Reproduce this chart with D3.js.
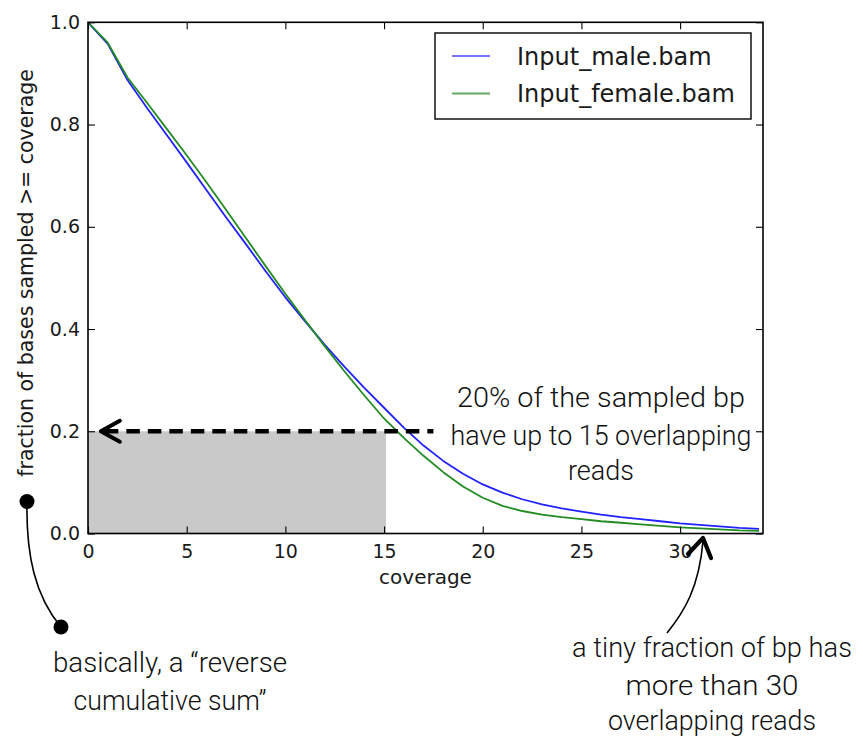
<!DOCTYPE html>
<html>
<head>
<meta charset="utf-8">
<script src="https://cdn.jsdelivr.net/npm/d3@7/dist/d3.min.js"></script>
<style>
  html, body { margin: 0; padding: 0; background: #fff; }
  svg { display: block; }
</style>
</head>
<body>
<svg id="chart" width="863" height="737"></svg>
<script>
// ---------------- data ----------------
const coverage = [0,1,2,3,4,5,6,7,8,9,10,11,12,13,14,15,16,17,18,19,20,21,22,23,24,25,26,27,28,29,30,31,32,33,34];
const maleFraction = [1.000,0.958,0.887,0.832,0.779,0.726,0.672,0.618,0.566,0.513,0.462,0.415,0.369,0.326,0.285,0.246,0.207,0.172,0.142,0.117,0.096,0.080,0.067,0.057,0.049,0.043,0.037,0.032,0.028,0.024,0.020,0.017,0.014,0.011,0.009];
const femaleFraction = [1.000,0.960,0.892,0.842,0.791,0.740,0.687,0.633,0.578,0.523,0.469,0.417,0.366,0.317,0.270,0.225,0.187,0.152,0.120,0.092,0.070,0.054,0.044,0.037,0.032,0.028,0.024,0.021,0.018,0.015,0.012,0.010,0.008,0.006,0.005];
const seriesNames = ["Input_male.bam", "Input_female.bam"];
const xTicks = [0,5,10,15,20,25,30];
const yTicks = [0.0,0.2,0.4,0.6,0.8,1.0];
const xLabel = "coverage";
const yLabel = "fraction of bases sampled >= coverage";
const shaded = [{x0: 0, x1: 15.1, y0: 0, y1: 0.2}];
const arrowLevel = [{xFrom: 17.5, xTo: 0.6, y: 0.2}];
const noteTop = ["20% of the sampled bp", "have up to 15 overlapping", "reads"];
const noteLeft = ["basically, a \u201creverse", "cumulative sum\u201d"];
const noteRight = ["a tiny fraction of bp has", "more than 30", "overlapping reads"];

// ---------------- layout ----------------
const svg = d3.select("#chart");
const L = 88, R = 763, T = 22.3, B = 533.5;
const x = d3.scaleLinear().domain([0, 34.2]).range([L, R]);
const y = d3.scaleLinear().domain([0, 1]).range([B, T]);
const tickFont = "'DejaVu Sans', sans-serif";
const handFont = "Roboto, 'Open Sans', sans-serif";

svg.append("rect").attr("width", 863).attr("height", 737).attr("fill", "#fff");

// shaded region
svg.selectAll("rect.shade").data(shaded).enter().append("rect")
  .attr("class", "shade")
  .attr("x", d => x(d.x0)).attr("y", d => y(d.y1))
  .attr("width", d => x(d.x1) - x(d.x0)).attr("height", d => y(d.y0) - y(d.y1))
  .attr("fill", "#c9c9c9");

// lines
const series = [
  {name: seriesNames[0], values: maleFraction, color: "#2222ff", legendColor: "#7474ff"},
  {name: seriesNames[1], values: femaleFraction, color: "#228b22", legendColor: "#62a862"}
];
const line = d3.line().x((d, i) => x(coverage[i])).y(d => y(d));
const clip = svg.append("clipPath").attr("id", "clip").append("rect")
  .attr("x", L).attr("y", T - 2).attr("width", R - L).attr("height", B - T + 2);
series.forEach(s => {
  svg.append("path").datum(s.values)
    .attr("d", line).attr("fill", "none")
    .attr("stroke", s.color).attr("stroke-width", 1.8)
    .attr("stroke-linejoin", "round")
    .attr("clip-path", "url(#clip)");
});

// axes (matplotlib classic: ticks inside on all four sides)
const tickLen = 7;
const axB = svg.append("g").attr("transform", `translate(0,${B})`)
  .call(d3.axisBottom(x).tickValues(xTicks).tickSizeInner(-tickLen).tickSizeOuter(0).tickPadding(11).tickFormat(d3.format("d")));
const axT = svg.append("g").attr("transform", `translate(0,${T})`)
  .call(d3.axisTop(x).tickValues(xTicks).tickSizeInner(-tickLen).tickSizeOuter(0).tickFormat(""));
const axL = svg.append("g").attr("transform", `translate(${L},0)`)
  .call(d3.axisLeft(y).tickValues(yTicks).tickSizeInner(-tickLen).tickSizeOuter(0).tickPadding(16).tickFormat(d3.format(".1f")));
const axR = svg.append("g").attr("transform", `translate(${R},0)`)
  .call(d3.axisRight(y).tickValues(yTicks).tickSizeInner(-tickLen).tickSizeOuter(0).tickFormat(""));
[axB, axT, axL, axR].forEach(g => {
  g.select(".domain").remove();
  g.selectAll(".tick line").attr("stroke", "#000").attr("stroke-width", 1.1);
  g.selectAll("text").attr("font-family", tickFont).attr("font-size", 19).attr("fill", "#1a1a1a");
});
axL.selectAll(".tick text").attr("dx", 8);
// spines
svg.append("rect").attr("x", L).attr("y", T).attr("width", R - L).attr("height", B - T)
  .attr("fill", "none").attr("stroke", "#000").attr("stroke-width", 1.6);

// axis labels
svg.append("text").attr("x", (L + R) / 2).attr("y", 584).attr("text-anchor", "middle")
  .attr("font-family", tickFont).attr("font-size", 20).attr("fill", "#1a1a1a").text(xLabel);
svg.append("text").attr("transform", `translate(33,${(T + B) / 2 - 5}) rotate(-90)`)
  .attr("text-anchor", "middle")
  .attr("font-family", tickFont).attr("font-size", 20.5).attr("fill", "#1a1a1a").text(yLabel);

// legend
const lg = svg.append("g");
lg.append("rect").attr("x", 435).attr("y", 33).attr("width", 316).attr("height", 86)
  .attr("fill", "#fff").attr("stroke", "#000").attr("stroke-width", 1.4);
series.forEach((s, i) => {
  const cy = 56 + i * 37.5;
  lg.append("line").attr("x1", 452).attr("x2", 490).attr("y1", cy).attr("y2", cy)
    .attr("stroke", s.legendColor).attr("stroke-width", 2);
  lg.append("text").attr("x", 517).attr("y", cy + 8.5)
    .attr("font-family", tickFont).attr("font-size", 24).attr("fill", "#1a1a1a").text(s.name);
});

// dashed arrow at 20%
arrowLevel.forEach(a => {
  const yy = y(a.y), x0 = x(a.xTo) + 1, x1 = x(a.xFrom);
  svg.append("line").attr("x1", x0 + 4).attr("x2", x1).attr("y1", yy).attr("y2", yy)
    .attr("stroke", "#000").attr("stroke-width", 4.5).attr("stroke-dasharray", "13.5,8");
  svg.append("path").attr("d", `M${x0 + 19},${yy - 10.5} L${x0},${yy} L${x0 + 19},${yy + 10.5}`)
    .attr("fill", "none").attr("stroke", "#000").attr("stroke-width", 4).attr("stroke-linecap", "round").attr("stroke-linejoin", "round");
});

// handwritten notes
function note(lines, cx, baselines, widths) {
  lines.forEach((t, i) => {
    svg.append("text").attr("x", cx).attr("y", baselines[i]).attr("text-anchor", "middle")
      .attr("font-family", handFont).attr("font-weight", 300).attr("font-size", 28)
      .attr("fill", "#111")
      .attr("textLength", widths[i]).attr("lengthAdjust", "spacingAndGlyphs")
      .text(t);
  });
}
note(noteTop, 601, [407, 445, 480], [288, 301, 66]);
note(noteLeft, 170, [672, 710], [234, 193]);
note(noteRight, 712, [657, 695, 730], [280, 173, 208]);

// left connector with dots
svg.append("path").attr("d", "M27,502 C26,555 35,596 61,627")
  .attr("fill", "none").attr("stroke", "#000").attr("stroke-width", 1.6);
svg.append("circle").attr("cx", 27).attr("cy", 501.5).attr("r", 7.5).attr("fill", "#000");
svg.append("circle").attr("cx", 61).attr("cy", 627).attr("r", 7.5).attr("fill", "#000");

// right curved arrow
svg.append("path").attr("d", "M667,633 C684,612 699,588 703,541")
  .attr("fill", "none").attr("stroke", "#000").attr("stroke-width", 1.6);
svg.append("path").attr("d", "M688,554 L703,538 L711,558")
  .attr("fill", "none").attr("stroke", "#000").attr("stroke-width", 4.2)
  .attr("stroke-linecap", "round").attr("stroke-linejoin", "round");
</script>
</body>
</html>
